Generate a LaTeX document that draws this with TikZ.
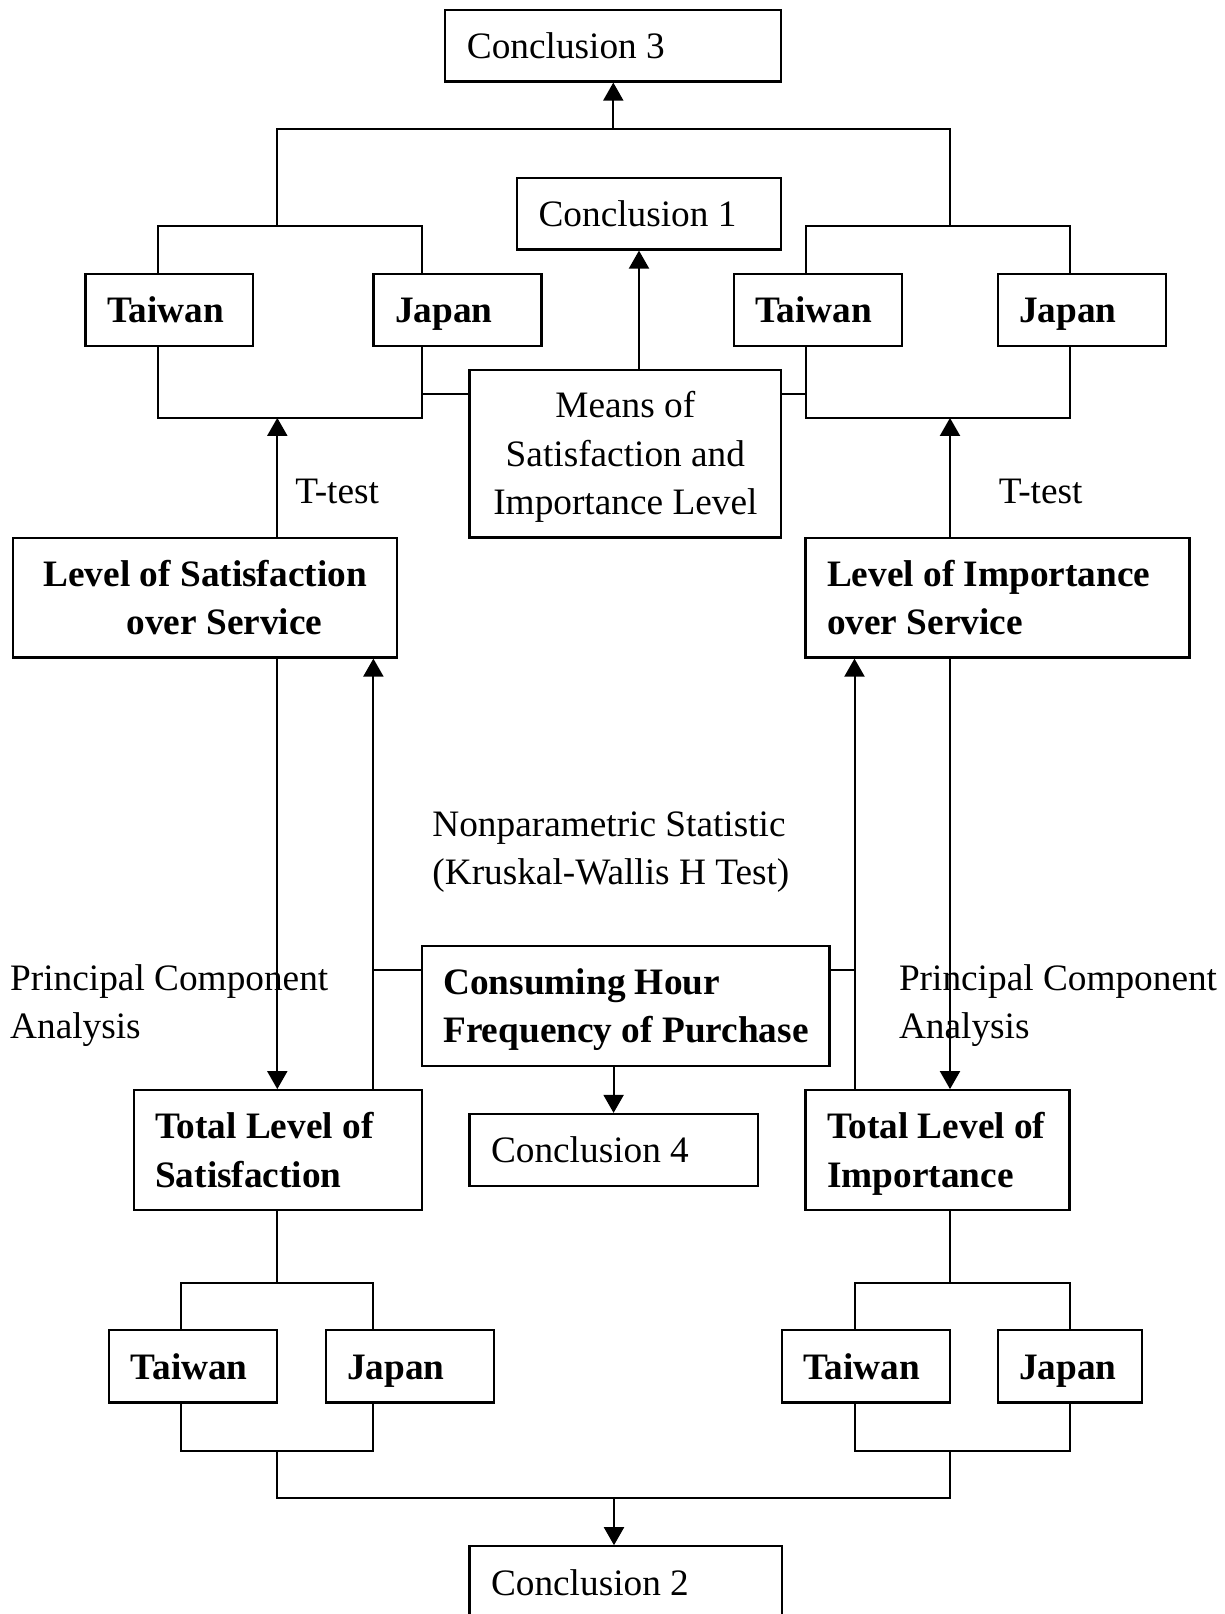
\documentclass[tikz,border=0pt]{standalone}
\usepackage{fontspec}
\setmainfont{Liberation Serif}
\usetikzlibrary{arrows.meta}
\newcommand\dfont{\fontsize{18.65pt}{24.2pt}\selectfont}
% box text: left-aligned with a fixed inset, or centred, across the box width
\newcommand\lft[1]{\raisebox{-1.5pt}[\height][\depth]{\makebox[\bxw pt][l]{\begin{tabular}{@{\hspace{10.8pt}}l@{}}#1\end{tabular}}}}
\newcommand\ctr[1]{\raisebox{-1.5pt}[\height][\depth]{\makebox[\bxw pt][c]{\begin{tabular}{@{}c@{}}#1\end{tabular}}}}
% box from its corners: [style]{name}{x1}{y1}{x2}{y2}{text}
\newcommand\mkbox[7][]{%
  \pgfmathsetmacro\bxw{(#5-#3)/2}%
  \pgfmathsetmacro\bxh{(#6-#4)/2}%
  \node[box,#1,minimum width=\bxw pt,minimum height=\bxh pt] (#2) at ({(#3+#5)/2},{(#4+#6)/2}) {#7};}
\tikzset{
  box/.style={draw,line width=1.1pt,inner sep=0pt,font=\dfont},
  bbox/.style={box,font=\dfont\bfseries},
  link/.style={line width=1pt},
  arr/.style={link,-{Triangle[length=9pt,width=10pt]}},
  lbl/.style={inner sep=0pt,anchor=west,align=left,font=\dfont}
}
\begin{document}
\begin{tikzpicture}[x=0.5pt,y=-0.5pt]
\useasboundingbox (0,0) rectangle (1225,1614);
\clip (0,0) rectangle (1225,1614);

% boxes
\mkbox{c3}{445.3}{10}{781.3}{81.5}{\lft{Conclusion 3}}
\mkbox{c1}{517}{178}{781}{249.5}{\lft{Conclusion 1}}
\mkbox[bbox]{tw1}{85.5}{274.3}{253.3}{346.3}{\lft{Taiwan}}
\mkbox[bbox]{ja1}{373.4}{274.3}{541.4}{346.3}{\lft{Japan}}
\mkbox[bbox]{tw2}{733.6}{274.3}{901.8}{346.3}{\lft{Taiwan}}
\mkbox[bbox]{ja2}{997.7}{274.3}{1165.8}{346.3}{\lft{Japan}}
\mkbox{means}{469.4}{369.6}{781.3}{537.5}{\ctr{Means of\\Satisfaction and\\Importance Level}}
\mkbox[bbox]{sat}{13.3}{538}{397}{657.5}{\ctr{Level of Satisfaction\\\hspace*{19.4pt}over Service}}
\mkbox[bbox]{imp}{805.5}{538}{1189.5}{657.5}{\lft{Level of Importance\\over Service}}
\mkbox[bbox]{cons}{421.7}{946}{829.5}{1066}{\lft{Consuming Hour\\Frequency of Purchase}}
\mkbox[bbox]{tsat}{133.6}{1090.2}{421.8}{1210.3}{\lft{Total Level of\\Satisfaction}}
\mkbox{c4}{469.4}{1114}{757.8}{1186.3}{\lft{Conclusion 4}}
\mkbox[bbox]{timp}{805.5}{1090.2}{1069.5}{1210.3}{\lft{Total Level of\\Importance}}
\mkbox[bbox]{tw3}{109.3}{1330.3}{277.3}{1402.5}{\lft{Taiwan}}
\mkbox[bbox]{ja3}{325.6}{1330.3}{493.6}{1402.5}{\lft{Japan}}
\mkbox[bbox]{tw4}{781.8}{1330.3}{950}{1402.5}{\lft{Taiwan}}
\mkbox[bbox]{ja4}{997.7}{1330.3}{1142}{1402.5}{\lft{Japan}}
\mkbox{c2}{469.4}{1546.3}{781.6}{1620}{\lft{Conclusion 2}}

% labels
\node[lbl] (tl) at (295,491) {T-test};
\node[lbl] (tr) at (998.5,491) {T-test};
\node[lbl] (np) at (432,852) {Nonparametric Statistic\\(Kruskal-Wallis H Test)};
\node[lbl] (pl) at (9.8,1005.5) {Principal Component\\Analysis};
\node[lbl] (pr) at (898.6,1005.5) {Principal Component\\Analysis};

% junction points
\coordinate (topL) at (277.3,129.3);
\coordinate (topR) at (950,129.3);
\coordinate (b1tl) at (157.8,225.7);
\coordinate (b1tr) at (421.9,225.7);
\coordinate (b1bl) at (157.8,417.9);
\coordinate (b1br) at (421.9,417.9);
\coordinate (b2tl) at (805.5,225.7);
\coordinate (b2tr) at (1069.5,225.7);
\coordinate (b2bl) at (805.5,417.9);
\coordinate (b2br) at (1069.5,417.9);
\coordinate (mL) at (421.9,394);
\coordinate (mR) at (805.5,394);
\coordinate (a1) at (639,0);
\coordinate (upL) at (373.4,970);
\coordinate (upR) at (854.5,970);
\coordinate (b3tl) at (181.3,1282.6);
\coordinate (b3tr) at (373.4,1282.6);
\coordinate (b3bl) at (181.3,1450.5);
\coordinate (b3br) at (373.4,1450.5);
\coordinate (b4tl) at (854.5,1282.6);
\coordinate (b4tr) at (1069.5,1282.6);
\coordinate (b4bl) at (854.5,1450.5);
\coordinate (b4br) at (1069.5,1450.5);
\coordinate (botL) at (277.3,1498);
\coordinate (botR) at (950,1498);
\coordinate (a2) at (614,0);

% top: brackets to Conclusion 3
\draw[link] (topL |- b1tl) -- (topL) -- (topR) -- (topR |- b2tl);
\draw[arr] (c3.south |- topL) -- (c3.south);
\draw[link] (tw1.north -| b1tl) -- (b1tl) -- (b1tr) -- (ja1.north -| b1tr);
\draw[link] (tw1.south -| b1bl) -- (b1bl) -- (b1br) -- (ja1.south -| b1br);
\draw[link] (tw2.north -| b2tl) -- (b2tl) -- (b2tr) -- (ja2.north -| b2tr);
\draw[link] (tw2.south -| b2bl) -- (b2bl) -- (b2br) -- (ja2.south -| b2br);

% means
\draw[link] (means.west |- mL) -- (mL);
\draw[link] (means.east |- mR) -- (mR);
\draw[arr] (means.north -| a1) -- (c1.south -| a1);

% T-tests
\draw[arr] (sat.north -| topL) -- (b1bl -| topL);
\draw[arr] (imp.north -| topR) -- (b2bl -| topR);

% principal component analysis and Kruskal-Wallis
\draw[arr] (sat.south -| topL) -- (tsat.north -| topL);
\draw[arr] (tsat.north -| upL) -- (sat.south -| upL);
\draw[arr] (timp.north -| upR) -- (imp.south -| upR);
\draw[arr] (imp.south -| topR) -- (timp.north -| topR);
\draw[link] (cons.west |- upL) -- (upL);
\draw[link] (cons.east |- upR) -- (upR);
\draw[arr] (cons.south -| c4.north) -- (c4.north);

% bottom: brackets to Conclusion 2
\draw[link] (tsat.south -| topL) -- (b3tl -| topL);
\draw[link] (timp.south -| topR) -- (b4tl -| topR);
\draw[link] (tw3.north -| b3tl) -- (b3tl) -- (b3tr) -- (ja3.north -| b3tr);
\draw[link] (tw3.south -| b3bl) -- (b3bl) -- (b3br) -- (ja3.south -| b3br);
\draw[link] (tw4.north -| b4tl) -- (b4tl) -- (b4tr) -- (ja4.north -| b4tr);
\draw[link] (tw4.south -| b4bl) -- (b4bl) -- (b4br) -- (ja4.south -| b4br);
\draw[link] (b3bl -| botL) -- (botL) -- (botR) -- (b4bl -| botR);
\draw[arr] (botL -| a2) -- (c2.north -| a2);
\end{tikzpicture}
\end{document}
